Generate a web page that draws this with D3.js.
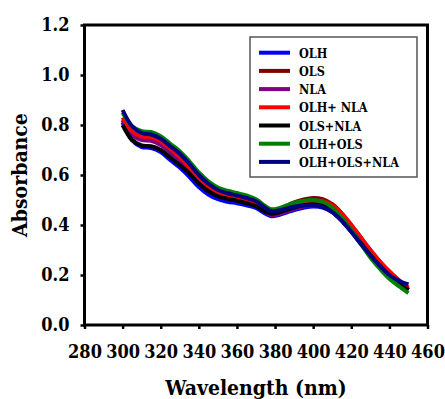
<!DOCTYPE html>
<html>
<head>
<meta charset="utf-8">
<script src="https://cdn.jsdelivr.net/npm/d3@7"></script>
<style>
  body { margin: 0; background: #fff; }
  svg text { font-family: "DejaVu Serif Condensed", "DejaVu Serif", serif !important; font-stretch: condensed; font-weight: bold; }
</style>
</head>
<body>
<svg id="chart" width="445" height="399"></svg>
<script>
// wavelength grid (nm)
const wavelengths = [300,305,310,315,320,325,330,335,340,345,350,355,360,365,370,375,378,382,386,390,395,400,405,410,415,420,425,430,435,440,445,450];

const olh = [0.81,0.738,0.712,0.708,0.692,0.66,0.63,0.593,0.552,0.522,0.503,0.493,0.487,0.479,0.468,0.445,0.435,0.44,0.45,0.46,0.469,0.474,0.47,0.452,0.418,0.373,0.325,0.278,0.235,0.197,0.166,0.14];
const ols = [0.82,0.765,0.745,0.742,0.725,0.695,0.663,0.622,0.58,0.548,0.527,0.515,0.507,0.497,0.486,0.462,0.455,0.463,0.477,0.49,0.502,0.508,0.503,0.483,0.447,0.40,0.35,0.30,0.253,0.21,0.175,0.145];
const nla = [0.82,0.76,0.74,0.737,0.72,0.69,0.658,0.618,0.578,0.545,0.522,0.51,0.50,0.49,0.478,0.452,0.44,0.443,0.454,0.465,0.474,0.479,0.475,0.458,0.425,0.38,0.33,0.283,0.24,0.2,0.168,0.14];
const olhNla = [0.83,0.775,0.755,0.752,0.735,0.705,0.672,0.632,0.59,0.555,0.532,0.52,0.51,0.50,0.488,0.462,0.452,0.456,0.466,0.478,0.49,0.497,0.495,0.478,0.445,0.40,0.35,0.30,0.255,0.215,0.18,0.15];
const olsNla = [0.80,0.74,0.718,0.715,0.70,0.67,0.64,0.605,0.565,0.535,0.515,0.505,0.497,0.487,0.475,0.452,0.445,0.45,0.46,0.47,0.479,0.483,0.478,0.458,0.423,0.378,0.328,0.28,0.237,0.197,0.165,0.14];
const olhOls = [0.85,0.795,0.775,0.772,0.755,0.725,0.695,0.655,0.61,0.575,0.55,0.537,0.528,0.518,0.503,0.475,0.463,0.467,0.478,0.488,0.497,0.50,0.493,0.47,0.43,0.38,0.325,0.27,0.225,0.185,0.155,0.128];
const olhOlsNla = [0.86,0.795,0.768,0.762,0.745,0.715,0.685,0.645,0.60,0.565,0.54,0.527,0.518,0.508,0.495,0.468,0.455,0.458,0.466,0.473,0.478,0.479,0.472,0.452,0.417,0.373,0.325,0.279,0.237,0.2,0.177,0.162];

const seriesNames = ["OLH", "OLS", "NLA", "OLH+ NLA", "OLS+NLA", "OLH+OLS", "OLH+OLS+NLA"];
const seriesValues = [olh, ols, nla, olhNla, olsNla, olhOls, olhOlsNla];
const seriesColors = ["#0000ff", "#800000", "#800080", "#ff0000", "#000000", "#008000", "#000080"];

const xTicks = [280,300,320,340,360,380,400,420,440,460];
const yTicks = [0,0.2,0.4,0.6,0.8,1.0,1.2];

const svg = d3.select("#chart");
const plotLeft = 84.5, plotRight = 427.5, plotTop = 25, plotBottom = 325;

const x = d3.scaleLinear().domain([280, 460]).range([plotLeft, plotRight]);
const y = d3.scaleLinear().domain([0, 1.2]).range([plotBottom, plotTop]);

// curves
const line = d3.line()
  .x((d, i) => x(wavelengths[i]))
  .y(d => y(d))
  .curve(d3.curveCatmullRom.alpha(0.5));

svg.append("g")
  .selectAll("path")
  .data(seriesValues)
  .enter()
  .append("path")
  .attr("d", d => line(d))
  .attr("fill", "none")
  .attr("stroke", (d, i) => seriesColors[i])
  .attr("stroke-width", 4);

// axes
const xAxis = svg.append("g")
  .attr("transform", "translate(0," + plotBottom + ")")
  .call(d3.axisBottom(x).tickValues(xTicks).tickSize(4).tickSizeOuter(0).tickPadding(16));
const yAxis = svg.append("g")
  .attr("transform", "translate(" + plotLeft + ",0)")
  .call(d3.axisLeft(y).tickValues(yTicks).tickFormat(d3.format(".1f")).tickSize(4).tickSizeOuter(0).tickPadding(11));

[xAxis, yAxis].forEach(g => {
  g.attr("font-family", null);
  g.select(".domain").remove();
  g.selectAll("line").attr("stroke", "#000").attr("stroke-width", 2.5);
  g.selectAll("text").attr("fill", "#000").style("font-size", "18px");
});

// frame
svg.append("rect")
  .attr("x", plotLeft).attr("y", plotTop)
  .attr("width", plotRight - plotLeft).attr("height", plotBottom - plotTop)
  .attr("fill", "none").attr("stroke", "#000").attr("stroke-width", 3);

// titles
svg.append("text")
  .attr("x", 256).attr("y", 395)
  .attr("text-anchor", "middle")
  .style("font-size", "21px")
  .text("Wavelength (nm)");

svg.append("text")
  .attr("transform", "translate(27,175) rotate(-90)")
  .attr("text-anchor", "middle")
  .style("font-size", "21px")
  .text("Absorbance");

// legend
const legend = svg.append("g");
legend.append("rect")
  .attr("x", 250).attr("y", 37).attr("width", 167).attr("height", 140)
  .attr("fill", "#fff").attr("stroke", "#555").attr("stroke-width", 1.5);

const rows = legend.selectAll("g.row")
  .data(seriesNames)
  .enter()
  .append("g")
  .attr("class", "row")
  .attr("transform", (d, i) => "translate(0," + (52.7 + i * 18.2) + ")");

rows.append("line")
  .attr("x1", 259).attr("x2", 290)
  .attr("stroke", (d, i) => seriesColors[i])
  .attr("stroke-width", 4);

rows.append("text")
  .attr("x", 299).attr("y", 5)
  .style("font-size", "12.5px")
  .text(d => d);
</script>
</body>
</html>
